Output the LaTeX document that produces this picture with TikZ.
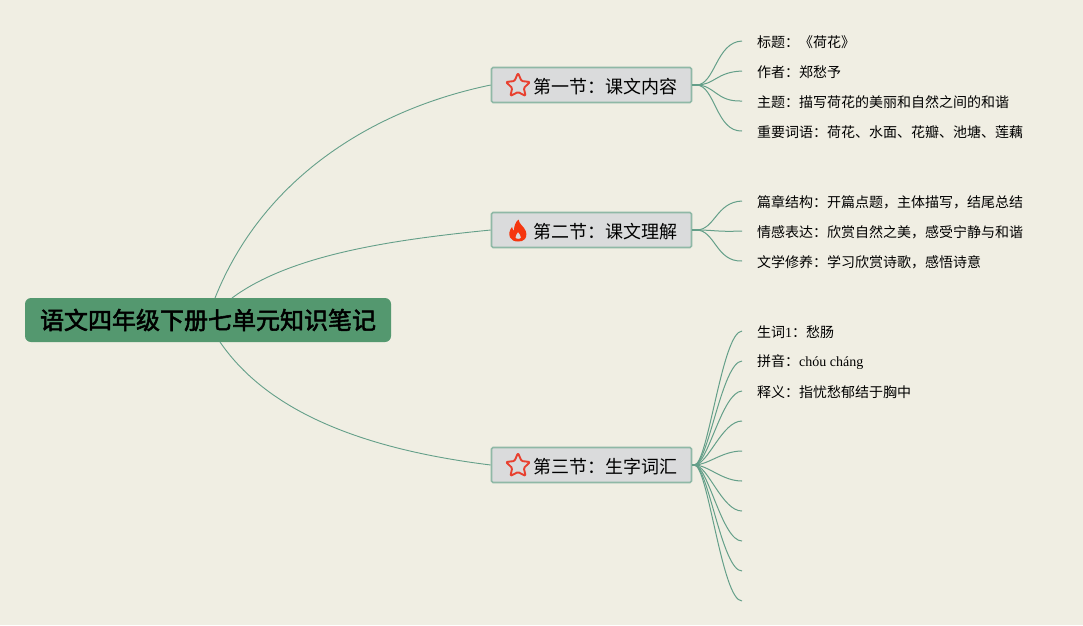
\documentclass[tikz,border=0pt]{standalone}
\usepackage{fontspec}
\setmainfont{Liberation Serif}
\newfontfamily\cjk{Noto Sans CJK SC}
\newfontfamily\cjkfat[FakeBold=2.2]{Noto Sans CJK SC}
\newcommand{\qc}{\char"FF1A\relax}
\newcommand{\qd}{\char"FF0C\relax}
\definecolor{bgc}{HTML}{F0EEE3}
\definecolor{linec}{HTML}{649F89}
\definecolor{boxc}{HTML}{DADBDC}
\definecolor{boxl}{HTML}{8FB8A6}
\definecolor{rootc}{HTML}{54986F}
\definecolor{starc}{HTML}{E8402F}
\definecolor{flamec}{HTML}{F5360F}
\tikzset{
  rootnode/.style={draw=none,fill=rootc,rounded corners=6pt,minimum width=366pt,minimum height=44pt,inner sep=0pt,font=\cjkfat\fontsize{24}{24}\selectfont,text=black},
  secnode/.style={draw=boxl,line width=1.6pt,fill=boxc,rounded corners=1.5pt,minimum width=200pt,minimum height=35pt,inner sep=0pt,text=black},
  leafnode/.style={anchor=west,inner xsep=15pt,inner ysep=0pt,minimum height=14pt,font=\cjk\fontsize{14}{14}\selectfont,text=black},
  main/.style={draw=linec,line width=0.9pt},
  twig/.style={draw=linec,line width=1pt},
  stub/.style={draw=linec,line width=1.8pt},
  secfont/.style={font=\cjk\fontsize{18}{18}\selectfont,anchor=west,inner sep=0pt},
  staricon/.style={draw=starc,line width=1.9pt,line join=round,rounded corners=1.2pt},
}
\begin{document}
\begin{tikzpicture}[x=1pt,y=-1pt]
\useasboundingbox[fill=bgc] (0,0) rectangle (1083,625);

\node[rootnode] (root) at (208,320) {\raisebox{-1pt}{语文四年级下册七单元知识笔记}};
\node[secnode] (s1) at (591.5,85) {};
\node[secnode] (s2) at (591.5,230) {};
\node[secnode] (s3) at (591.5,465) {};
\node[secfont] (t1) at (533,87) {第一节\qc 课文内容};
\node[secfont] (t2) at (533,232) {第二节\qc 课文理解};
\node[secfont] (t3) at (533,467) {第三节\qc 生字词汇};

\node[leafnode] (a1) at (742,42) {标题\qc 《荷花》};
\node[leafnode] (a2) at (742,72) {作者\qc 郑愁予};
\node[leafnode] (a3) at (742,102) {主题\qc 描写荷花的美丽和自然之间的和谐};
\node[leafnode] (a4) at (742,132) {重要词语\qc 荷花、水面、花瓣、池塘、莲藕};
\node[leafnode] (b1) at (742,202) {篇章结构\qc 开篇点题\qd 主体描写\qd 结尾总结};
\node[leafnode] (b2) at (742,232) {情感表达\qc 欣赏自然之美\qd 感受宁静与和谐};
\node[leafnode] (b3) at (742,262) {文学修养\qc 学习欣赏诗歌\qd 感悟诗意};
\node[leafnode] (c1) at (742,332) {生词{\fontspec{Liberation Serif}1}\qc 愁肠};
\node[leafnode] (c2) at (742,362) {拼音\qc {\fontspec{Liberation Serif}chóu cháng}};
\node[leafnode] (c3) at (742,392) {释义\qc 指忧愁郁结于胸中};
\foreach \n/\y in {c4/421,c5/451,c6/481,c7/511,c8/541,c9/571,c10/601}{
  \coordinate (\n) at (742,\y);
}
\coordinate (r1) at (215,298);
\coordinate (r2) at (232,298);
\coordinate (r3) at (220,342);
\draw[main] (r1) .. controls (262,180) and (370,110) .. (s1.west);
\draw[main] (r2) .. controls (290,255) and (390,240) .. (s2.west);
\draw[main] (r3) .. controls (270,415) and (370,450) .. (s3.west);

\foreach \t in {a1,a2,a3,a4}{
  \draw[twig] ([xshift=4pt]s1.east) .. controls (715,85) and (716,0|-\t.west) .. ([yshift=1pt]\t.west);}
\draw[stub] (s1.east) -- ++(8,0);
\foreach \t in {b1,b2,b3}{
  \draw[twig] ([xshift=4pt]s2.east) .. controls (715,230) and (716,0|-\t.west) .. ([yshift=1pt]\t.west);}
\draw[stub] (s2.east) -- ++(8,0);
\foreach \t in {c1,c2,c3}{
  \draw[twig] ([xshift=2pt]s3.east) .. controls (708,465) and (722,0|-\t.west) .. ([yshift=1pt]\t.west);}
\foreach \t in {c4,c5,c6,c7,c8,c9,c10}{
  \draw[twig] ([xshift=2pt]s3.east) .. controls (708,465) and (722,0|-\t) .. (\t);}
\draw[stub] (s3.east) -- ++(8,0);

% icons
\foreach \cx/\cy in {518/85,518/465}{
  \draw[staricon]
    (\cx,\cy-12) -- (\cx+3.5,\cy-4) -- (\cx+12,\cy-3) -- (\cx+5.8,\cy+3) -- (\cx+7.6,\cy+11)
    -- (\cx,\cy+7) -- (\cx-7.6,\cy+11) -- (\cx-5.8,\cy+3) -- (\cx-12,\cy-3) -- (\cx-3.5,\cy-4) -- cycle;
}
\fill[flamec,even odd rule] (518.5,219.5)
  .. controls (519.5,224) and (522,225) .. (524,228)
  .. controls (527,232) and (527,236) .. (525,239)
  .. controls (523,241) and (521,241.5) .. (518,241.5)
  .. controls (514,241.5) and (511.5,240) .. (510,237.5)
  .. controls (508.5,234) and (509.5,230) .. (512,227)
  .. controls (512.5,229) and (513,230) .. (514,230.5)
  .. controls (514,226) and (515.5,222) .. (518.5,219.5) -- cycle
  (518,232) .. controls (517.5,234) and (515,235) .. (515.4,237.5)
  .. controls (515.8,239.3) and (520.6,239.3) .. (521,237.5)
  .. controls (521.3,235) and (519,234) .. (518,232) -- cycle;
\end{tikzpicture}
\end{document}
